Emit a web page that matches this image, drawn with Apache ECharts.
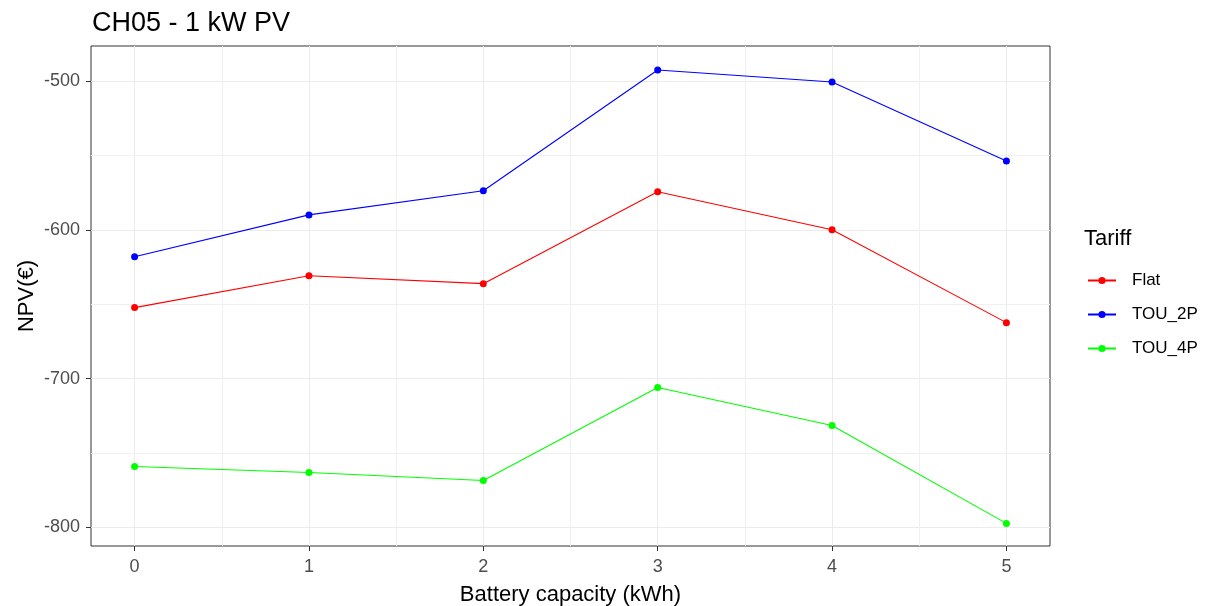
<!DOCTYPE html>
<html><head><meta charset="utf-8">
<script src="https://cdn.jsdelivr.net/npm/echarts@6/dist/echarts.min.js"></script>
<style>html,body{margin:0;padding:0;background:#fff}#c{width:1206px;height:606px}</style>
</head><body><div id="c"></div>
<script>
const capacities = [0, 1, 2, 3, 4, 5];
const flat = [-652.3, -630.9, -636.2, -574.5, -600.0, -662.4];
const tou2p = [-618.1, -590.0, -573.8, -492.6, -500.7, -553.7];
const tou4p = [-759.1, -763.1, -768.5, -706.0, -731.5, -797.3];
const seriesNames = ['Flat', 'TOU_2P', 'TOU_4P'];
const seriesColors = ['#FF0000', '#0000FF', '#00FF00'];
const xTicks = [0, 1, 2, 3, 4, 5];
const xMinor = [0.5, 1.5, 2.5, 3.5, 4.5];
const yTicks = [-800, -700, -600, -500];
const yMinor = [-750, -650, -550];

const font = 'Liberation Sans, Arial, sans-serif';
const chart = echarts.init(document.getElementById('c'), null, {renderer: 'canvas'});
const values = [flat, tou2p, tou4p];
const series = values.map((v, i) => ({
  name: seriesNames[i], type: 'line', data: capacities.map((c, j) => [c, v[j]]),
  symbol: 'circle', symbolSize: 7, color: seriesColors[i],
  lineStyle: {width: 1.1, color: seriesColors[i]}, itemStyle: {color: seriesColors[i]},
  z: 5, animation: false
}));
series.push({
  type: 'line', data: [], silent: true, z: 1, animation: false,
  markLine: {
    silent: true, symbol: 'none', label: {show: false}, animation: false,
    lineStyle: {color: '#F0F0F0', width: 1, type: 'solid'},
    data: xMinor.map(x => ({xAxis: x})).concat(yMinor.map(y => ({yAxis: y})))
  }
});
chart.setOption({
  backgroundColor: '#fff',
  animation: false,
  title: {text: 'CH05 - 1 kW PV', left: 87, top: 5,
    textStyle: {fontFamily: font, fontSize: 27, fontWeight: 'normal', color: '#000'}},
  legend: {
    orient: 'vertical', left: 1087, top: 272, padding: 0, itemGap: 17, itemWidth: 28, itemHeight: 9,
    data: seriesNames,
    textStyle: {fontFamily: font, fontSize: 17, color: '#000', padding: [0, 0, 0, 11]}
  },
  graphic: [{type: 'text', left: 1084, top: 228, style: {text: 'Tariff', fontFamily: font, fontSize: 22, fill: '#000'}}],
  grid: {left: 91, right: 156, top: 46, bottom: 60, outerBoundsMode: 'none', show: true, borderColor: '#333', borderWidth: 1, backgroundColor: 'transparent'},
  xAxis: {
    type: 'value', min: -0.25, max: 5.25,
    name: 'Battery capacity (kWh)', nameLocation: 'middle', nameGap: 38, nameMoveOverlap: false,
    nameTextStyle: {fontFamily: font, fontSize: 22, color: '#000'},
    axisLine: {show: false, onZero: false},
    axisTick: {show: true, customValues: xTicks, length: 5, lineStyle: {color: '#333'}},
    axisLabel: {customValues: xTicks, fontFamily: font, fontSize: 18, color: '#4D4D4D', margin: 12},
    splitLine: {show: true, lineStyle: {color: '#EBEBEB', width: 1}}
  },
  yAxis: {
    type: 'value', min: -812.5, max: -476.5,
    name: 'NPV(€)', nameLocation: 'middle', nameGap: 53, nameRotate: 90, nameMoveOverlap: false,
    nameTextStyle: {fontFamily: font, fontSize: 22, color: '#000'},
    axisLine: {show: false, onZero: false},
    axisTick: {show: true, customValues: yTicks, length: 5, lineStyle: {color: '#333'}},
    axisLabel: {customValues: yTicks, fontFamily: font, fontSize: 18, color: '#4D4D4D', margin: 11},
    splitLine: {show: true, lineStyle: {color: '#EBEBEB', width: 1}}
  },
  series: series
});
</script></body></html>
